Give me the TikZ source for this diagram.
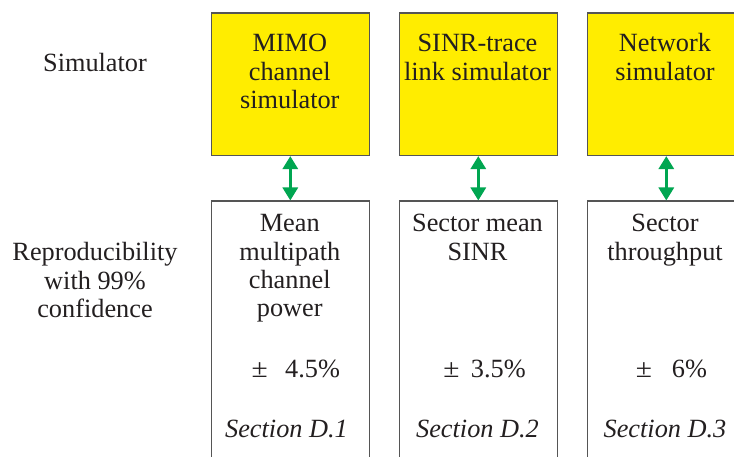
\documentclass[tikz,border=0pt]{standalone}
\usepackage{fontspec}
\setmainfont{Liberation Serif}
\usetikzlibrary{arrows.meta}
\definecolor{simyellow}{RGB}{255,237,0}
\definecolor{arrgreen}{RGB}{0,166,81}
\definecolor{edgegray}{RGB}{85,85,85}
\definecolor{txt}{RGB}{35,31,32}
\begin{document}
\begin{tikzpicture}[x=1pt,y=-1pt,
  simbox/.style={draw=edgegray, line width=1.1pt, fill=simyellow, rectangle,
    minimum width=158.5pt, minimum height=142.5pt, inner sep=0pt, anchor=north west},
  resbox/.style={draw=edgegray, line width=1.1pt, fill=white, rectangle,
    minimum width=158.5pt, minimum height=300pt, inner sep=0pt, anchor=north west},
  lbl/.style={text=txt, align=center, inner sep=0pt, anchor=base,
    font=\fontsize{26.3}{28.35}\selectfont},
  val/.style={lbl, anchor=base west},
  dblarrow/.style={draw=arrgreen, line width=3pt,
    {Triangle[length=13pt,width=15pt]}-{Triangle[length=13pt,width=15pt]}}
]
\useasboundingbox (0,0) rectangle (734,457);
\clip (0,0) rectangle (734,457);
\fill[white] (0,0) rectangle (734,457);

% simulator boxes
\node[simbox] (s1) at (210.5,12.5) {};
\node[simbox] (s2) at (398.5,12.5) {};
\node[simbox] (s3) at (586.5,12.5) {};
% result boxes
\node[resbox] (r1) at (210.5,200.5) {};
\node[resbox] (r2) at (398.5,200.5) {};
\node[resbox] (r3) at (586.5,200.5) {};

% arrows
\draw[dblarrow] (s1.south) -- (r1.north);
\draw[dblarrow] (s2.south) -- (r2.north);
\draw[dblarrow] (s3.south) -- (r3.north);

% row labels (anchored at baseline of last line)
\node[lbl] (lsim) at (95,71.7) {Simulator};
\node[lbl] (lrep) at (95,317.5) {Reproducibility\\with 99\%\\confidence};

% simulator texts
\node[lbl] (ts1) at (289.8,108.4) {MIMO\\channel\\simulator};
\node[lbl] (ts2) at (477.5,80.1) {SINR-trace\\link simulator};
\node[lbl] (ts3) at (665,80.1) {Network\\simulator};

% result texts
\node[lbl] (tr1) at (289.8,316.8) {Mean\\multipath\\channel\\power};
\node[lbl] (tr2) at (477.5,260.1) {Sector mean\\SINR};
\node[lbl] (tr3) at (665,260.1) {Sector\\throughput};

% confidence values
\node[val] (v1) at (259.5,377.2) {\makebox[0pt]{\scalebox{1.12}[1]{±}}\hspace{25.5pt}4.5\%};
\node[val] (v2) at (451.3,377.2) {\makebox[0pt]{\scalebox{1.12}[1]{±}}\hspace{19.4pt}3.5\%};
\node[val] (v3) at (643.7,377.2) {\makebox[0pt]{\scalebox{1.12}[1]{±}}\hspace{28pt}6\%};

% sections
\node[lbl] (sec1) at (286.5,437.3) {\itshape Section D.1};
\node[lbl] (sec2) at (477.5,437.3) {\itshape Section D.2};
\node[lbl] (sec3) at (665,437.3) {\itshape Section D.3};
\end{tikzpicture}
\end{document}
